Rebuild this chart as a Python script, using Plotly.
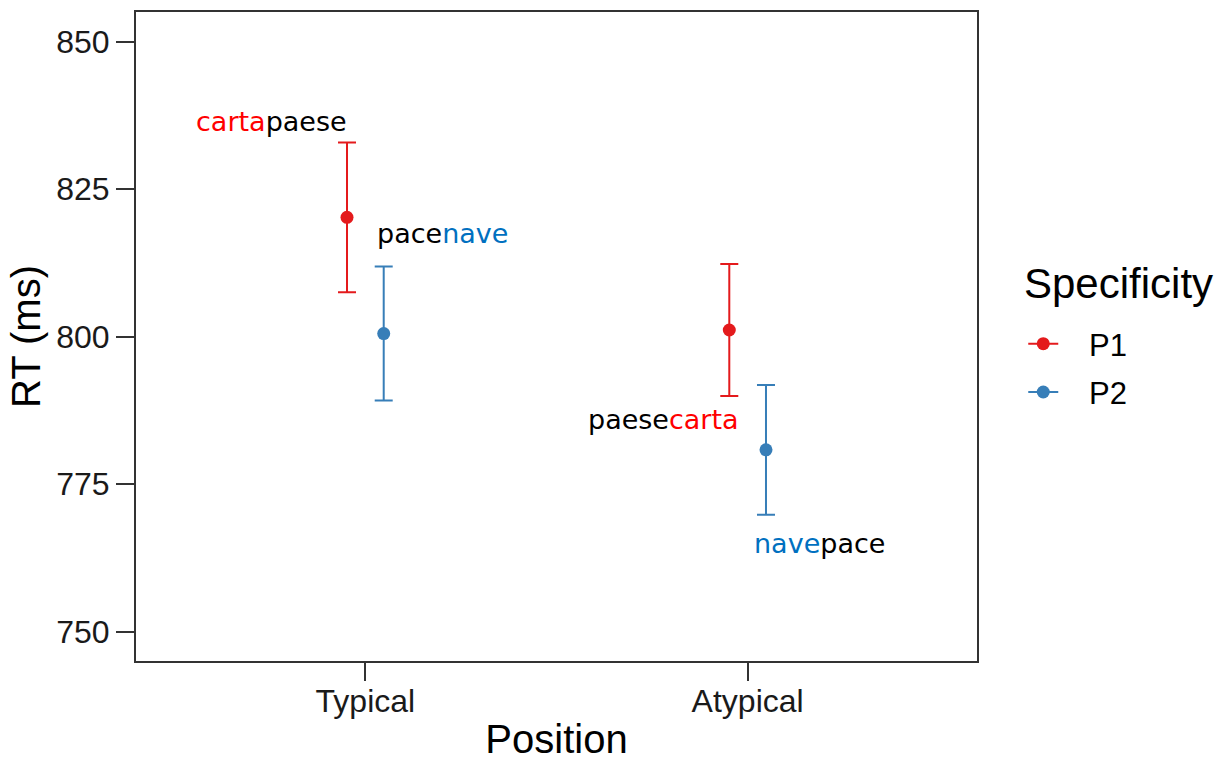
import plotly.graph_objects as go

# Condition means and error-bar half-widths (RT in ms)
positions = ["Typical", "Atypical"]
specificity = ["P1", "P2"]
p1_mean = [820.2, 801.1]
p1_err = [12.7, 11.2]
p2_mean = [800.5, 780.8]
p2_err = [11.35, 11.0]

# Word-pair labels placed beside each condition
label_html = [
    "<span style='color:#FF0000'>carta</span>paese",
    "pace<span style='color:#0070C0'>nave</span>",
    "paese<span style='color:#FF0000'>carta</span>",
    "<span style='color:#0070C0'>nave</span>pace",
]
label_x = [0.755, 1.202, 1.781, 2.188]
label_y = [836.5, 817.5, 785.9, 765.0]

colors = {"P1": "#E41A1C", "P2": "#377EB8"}
dodge = 0.048
base_x = list(range(1, len(positions) + 1))
pad = "\u00a0\u00a0\u00a0"

fig = go.Figure()
series = [("P1", p1_mean, p1_err, -dodge), ("P2", p2_mean, p2_err, dodge)]
for name, mean, err, off in series:
    fig.add_trace(go.Scatter(
        x=[b + off for b in base_x], y=mean, mode="markers",
        marker=dict(color=colors[name], size=13),
        error_y=dict(type="data", array=err, visible=True,
                     color=colors[name], thickness=2, width=9),
        showlegend=False, name=name,
    ))
    # legend key: line with point
    fig.add_trace(go.Scatter(
        x=[None], y=[None], mode="lines+markers", name=pad + name,
        legendgroup=name,
        line=dict(color=colors[name], width=2),
        marker=dict(color=colors[name], size=13),
    ))

for txt, lx, ly in zip(label_html, label_x, label_y):
    fig.add_annotation(x=lx, y=ly, text=txt, showarrow=False,
                       xanchor="center", yanchor="middle",
                       font=dict(family="DejaVu Sans", size=27, color="#000000"))

# legend heading
fig.add_annotation(x=1.053, y=0.581, xref="paper", yref="paper",
                   text="Specificity", showarrow=False,
                   xanchor="left", yanchor="middle",
                   font=dict(family="Liberation Sans, Arial", size=42, color="#000000"))

axis_common = dict(
    showline=True, linecolor="#333333", linewidth=2, mirror=True,
    ticks="outside", ticklen=18, tickwidth=2, tickcolor="#333333",
    showgrid=False, zeroline=False, automargin=False,
    tickfont=dict(family="Liberation Sans, Arial", size=32, color="#1a1a1a"),
)

fig.update_layout(
    width=1218, height=761,
    margin=dict(l=136, r=241, t=12, b=100),
    paper_bgcolor="white", plot_bgcolor="white",
    font=dict(family="Liberation Sans, Arial", color="#000000"),
    xaxis=dict(
        range=[0.4, 2.6], tickvals=base_x, ticktext=positions,
        title=dict(text="Position", font=dict(size=40), standoff=22),
        ticklabelstandoff=-7,
        **axis_common,
    ),
    yaxis=dict(
        range=[745, 855], tickvals=[750, 775, 800, 825, 850],
        title=dict(text="RT (ms)", font=dict(size=40), standoff=3),
        ticklabelstandoff=0,
        **axis_common,
    ),
    legend=dict(
        font=dict(size=31, color="#000000"), x=1.055, y=0.530,
        xanchor="left", yanchor="top", itemwidth=30,
        traceorder="grouped", tracegroupgap=5,
        bgcolor="rgba(0,0,0,0)",
    ),
)

fig.write_html("out.html")
